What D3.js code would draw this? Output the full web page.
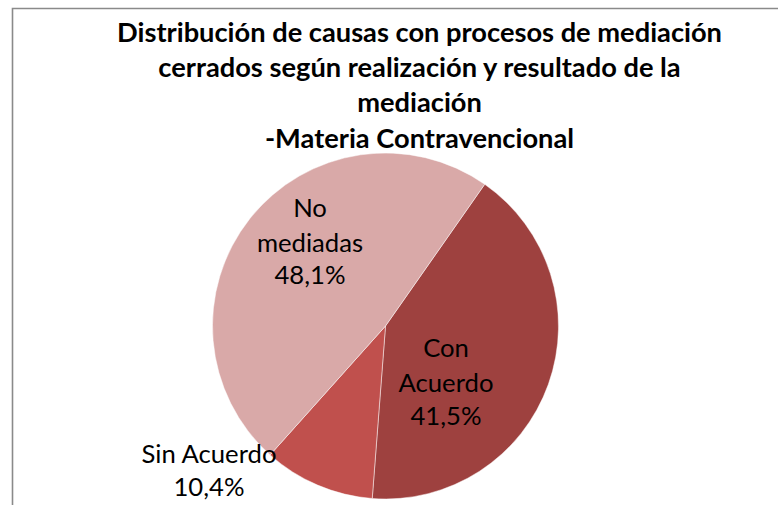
<!DOCTYPE html>
<html>
<head>
<meta charset="utf-8">
<script src="https://cdn.jsdelivr.net/npm/d3@7"></script>
<style>
  html, body { margin: 0; padding: 0; background: #fff; }
  svg { display: block; }
</style>
</head>
<body>
<svg id="chart" width="778" height="505"></svg>
<script>
// ---- data ----
const titleLines = [
  "Distribución de causas con procesos de mediación",
  "cerrados según realización y resultado de la",
  "mediación",
  "-Materia Contravencional"
];
const categories = ["Con Acuerdo", "Sin Acuerdo", "No mediadas"];
const values = [41.5, 10.4, 48.1];
const labelNameLines = [["Con", "Acuerdo"], ["Sin Acuerdo"], ["No", "mediadas"]];
const colors = ["#9E413F", "#C0504D", "#D9A9A8"];

// ---- layout / style ----
const W = 778, H = 505;
const FONT = "Lato, 'Open Sans', 'DejaVu Sans', sans-serif";
const pieCfg = { cx: 385.5, cy: 326, r: 173, startDeg: 35 };
const titleCfg = { cx: 419.5, baselines: [42, 77, 112, 148], line1Width: 605 };
const labelCfg = [
  { x: 446, baselines: [357, 392, 425] },
  { x: 209, baselines: [463, 496] },
  { x: 310, baselines: [217, 252, 284] }
];
const labelRefWidth = 135; // width of "Sin Acuerdo"

const svg = d3.select("#chart");

// frame
svg.append("path")
  .attr("d", `M12.5,${H} L12.5,8.5 L${W},8.5`)
  .attr("fill", "none")
  .attr("stroke", "#8a8a8a")
  .attr("stroke-width", 1.6);

// pie
const pie = d3.pie().sort(null).value(d => d)
  .startAngle(pieCfg.startDeg * Math.PI / 180)
  .endAngle(pieCfg.startDeg * Math.PI / 180 + 2 * Math.PI);
const arc = d3.arc().innerRadius(0).outerRadius(pieCfg.r);
const g = svg.append("g").attr("transform", `translate(${pieCfg.cx},${pieCfg.cy})`);
g.selectAll("path.slice")
  .data(pie(values))
  .join("path")
  .attr("class", "slice")
  .attr("d", arc)
  .attr("fill", (d, i) => colors[i])
  .attr("stroke", "rgba(255,255,255,0.6)")
  .attr("stroke-width", 0.8);

// helper: measure text width
function measure(text, size, weight) {
  const t = svg.append("text").attr("font-family", FONT).attr("font-size", size)
    .attr("font-weight", weight).text(text);
  const w = t.node().getComputedTextLength();
  t.remove();
  return w;
}

// title
const tSize = 20 * titleCfg.line1Width / measure(titleLines[0], 20, "bold");
svg.append("g").selectAll("text")
  .data(titleLines)
  .join("text")
  .attr("x", titleCfg.cx)
  .attr("y", (d, i) => titleCfg.baselines[i])
  .attr("text-anchor", "middle")
  .attr("font-family", FONT)
  .attr("font-weight", "bold")
  .attr("font-size", tSize)
  .attr("fill", "#000")
  .text(d => d);

// labels
const lSize = 20 * labelRefWidth / measure("Sin Acuerdo", 20, "normal");
const fmt = v => d3.format(".1f")(v).replace(".", ",") + "%";
categories.forEach((c, i) => {
  const lines = labelNameLines[i].concat([fmt(values[i])]);
  svg.append("g").selectAll("text")
    .data(lines)
    .join("text")
    .attr("x", labelCfg[i].x)
    .attr("y", (d, j) => labelCfg[i].baselines[j])
    .attr("text-anchor", "middle")
    .attr("font-family", FONT)
    .attr("font-size", lSize)
    .attr("fill", "#000")
    .text(d => d);
});
</script>
</body>
</html>
